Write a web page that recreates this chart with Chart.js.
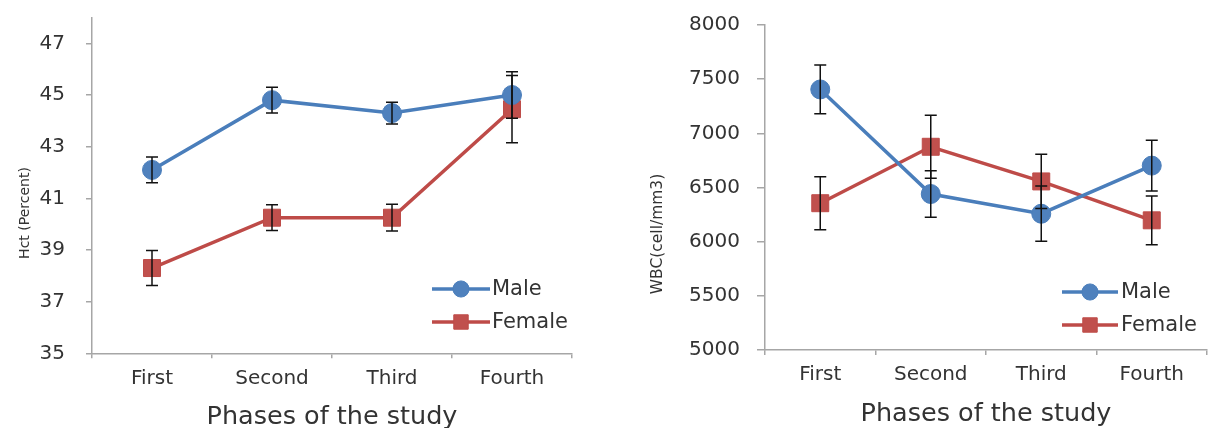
<!DOCTYPE html>
<html><head><meta charset="utf-8">
<script src="https://cdn.jsdelivr.net/npm/chart.js@4.4.0/dist/chart.umd.min.js"></script>
<style>
html,body{margin:0;padding:0;background:#fff;width:1212px;height:428px;overflow:hidden}
canvas{position:absolute;top:0}
#c1{left:0}
#c2{left:606px}
</style></head><body>
<canvas id="c1" width="606" height="428"></canvas>
<canvas id="c2" width="606" height="428"></canvas>
<script>
// ---- data ----
const phases = ['First', 'Second', 'Third', 'Fourth'];
const seriesNames = ['Male', 'Female'];
const xTitle = 'Phases of the study';

const hctMale = [42.1, 44.8, 44.3, 45.0];
const hctMaleErr = [0.5, 0.5, 0.42, 0.9];
const hctFemale = [38.3, 40.25, 40.25, 44.45];
const hctFemaleErr = [0.68, 0.5, 0.52, 1.3];
const hctTicks = [35, 37, 39, 41, 43, 45, 47];
const hctTitle = 'Hct (Percent)';

const wbcMale = [7405, 6440, 6258, 6702];
const wbcMaleErr = [225, 215, 255, 235];
const wbcFemale = [6355, 6876, 6556, 6197];
const wbcFemaleErr = [245, 290, 250, 225];
const wbcTicks = [5000, 5500, 6000, 6500, 7000, 7500, 8000];
const wbcTitle = 'WBC(cell/mm3)';

// ---- styling ----
const FONT = "'DejaVu Sans', sans-serif";
const TXT = '#333333';
const AXIS = '#a6a6a6';
const BLUE_LINE = '#4A7EBB', BLUE_FILL = '#4F81BD';
const RED_LINE = '#BE4B48', RED_FILL = '#C0504D';

const errorBars = {
  id: 'errorBars',
  afterDatasetsDraw(chart) {
    const ctx = chart.ctx, ys = chart.scales.y;
    ctx.save();
    ctx.strokeStyle = '#111';
    ctx.lineWidth = 1.5;
    chart.data.datasets.forEach((ds, i) => {
      const meta = chart.getDatasetMeta(i);
      ds.data.forEach((v, j) => {
        const e = ds.err[j];
        const x = meta.data[j].x;
        const yt = ys.getPixelForValue(v + e);
        const yb = ys.getPixelForValue(v - e);
        ctx.beginPath();
        ctx.moveTo(x, yt); ctx.lineTo(x, yb);
        ctx.moveTo(x - 6, yt); ctx.lineTo(x + 6, yt);
        ctx.moveTo(x - 6, yb); ctx.lineTo(x + 6, yb);
        ctx.stroke();
      });
    });
    ctx.restore();
  }
};

const customLegend = {
  id: 'customLegend',
  afterDraw(chart, args, opts) {
    const ctx = chart.ctx;
    ctx.save();
    chart.data.datasets.forEach((ds, i) => {
      const y = opts.y[i];
      ctx.strokeStyle = ds.borderColor;
      ctx.lineWidth = ds.borderWidth;
      ctx.beginPath();
      ctx.moveTo(opts.x0, y); ctx.lineTo(opts.x1, y);
      ctx.stroke();
      ctx.fillStyle = ds.pointBackgroundColor;
      ctx.strokeStyle = ds.pointBorderColor;
      ctx.lineWidth = ds.pointBorderWidth;
      Chart.helpers.drawPoint(ctx, {pointStyle: ds.pointStyle, radius: ds.pointRadius * 0.85, borderWidth: ds.pointBorderWidth}, (opts.x0 + opts.x1) / 2, y);
      ctx.fillStyle = TXT;
      ctx.font = opts.size + 'px ' + FONT;
      ctx.textAlign = 'left';
      ctx.textBaseline = 'middle';
      ctx.fillText(ds.label, opts.tx, y + 1);
    });
    ctx.restore();
  }
};

const yTitle = {
  id: 'yTitle',
  afterDraw(chart, args, opts) {
    const ctx = chart.ctx;
    ctx.save();
    ctx.translate(opts.x, opts.y);
    ctx.rotate(-Math.PI / 2);
    ctx.fillStyle = TXT;
    ctx.font = opts.size + 'px ' + FONT;
    ctx.textAlign = 'center';
    ctx.textBaseline = 'middle';
    ctx.fillText(opts.text, 0, 0);
    ctx.restore();
  }
};

function makeChart(id, c) {
  return new Chart(document.getElementById(id), {
    type: 'line',
    data: {
      labels: phases,
      datasets: [
        {label: seriesNames[0], data: c.male, err: c.maleErr,
         borderColor: BLUE_LINE, backgroundColor: BLUE_FILL,
         pointBackgroundColor: BLUE_FILL, pointBorderColor: BLUE_LINE,
         pointStyle: 'circle', pointRadius: 9.5, pointBorderWidth: 1, borderWidth: 3.5},
        {label: seriesNames[1], data: c.female, err: c.femaleErr,
         borderColor: RED_LINE, backgroundColor: RED_FILL,
         pointBackgroundColor: RED_FILL, pointBorderColor: RED_LINE,
         pointStyle: 'rect', pointRadius: 12, pointBorderWidth: 1, borderWidth: 3.5}
      ]
    },
    options: {
      responsive: false, animation: false, devicePixelRatio: 1,
      layout: {autoPadding: false, padding: {left: 0, right: c.padR, top: c.padT, bottom: 0}},
      plugins: {
        legend: {display: false}, tooltip: {enabled: false},
        customLegend: c.legend,
        yTitle: c.yTitle
      },
      scales: {
        x: {
          offset: true,
          grid: {offset: true, drawOnChartArea: false, tickLength: 5, color: AXIS, lineWidth: 1.5},
          border: {color: AXIS, width: 1.5},
          ticks: {padding: 8, color: TXT, font: {family: FONT, size: 20}},
          title: {display: true, text: xTitle, color: TXT,
                  font: {family: FONT, size: 25.5, lineHeight: 0.8},
                  padding: {top: 0, bottom: c.xTitlePad}},
          afterFit: s => { s.height = c.xH; s.paddingLeft = 0; s.paddingRight = 0; }
        },
        y: {
          min: c.min, max: c.max,
          afterBuildTicks: s => { s.ticks = c.ticks.map(v => ({value: v})); },
          grid: {drawOnChartArea: false, tickLength: c.tickLen, color: AXIS, lineWidth: 1.5},
          border: {color: AXIS, width: 1.5},
          ticks: {padding: c.tickPad, color: TXT, font: {family: FONT, size: 20},
                  callback: v => String(v)},
          afterFit: s => { s.width = c.yW; s.paddingTop = 0; s.paddingBottom = 0; }
        }
      }
    },
    plugins: [errorBars, customLegend, yTitle]
  });
}

makeChart('c1', {
  male: hctMale, maleErr: hctMaleErr, female: hctFemale, femaleErr: hctFemaleErr,
  ticks: hctTicks, min: 35, max: 48,
  padR: 34, padT: 17.5, xH: 74.7, yW: 92, tickLen: 6, tickPad: 21, xTitlePad: 0.4,
  legend: {x0: 432, x1: 490, tx: 492, y: [289, 322], size: 21},
  yTitle: {text: hctTitle, x: 25, y: 213, size: 14}
});

makeChart('c2', {
  male: wbcMale, maleErr: wbcMaleErr, female: wbcFemale, femaleErr: wbcFemaleErr,
  ticks: wbcTicks, min: 5000, max: 8000,
  padR: 5, padT: 25, xH: 78, yW: 159, tickLen: 8, tickPad: 17, xTitlePad: 3.4,
  legend: {x0: 456, x1: 512, tx: 515, y: [292, 325], size: 21},
  yTitle: {text: wbcTitle, x: 52, y: 234, size: 15.5}
});
</script>
</body></html>
